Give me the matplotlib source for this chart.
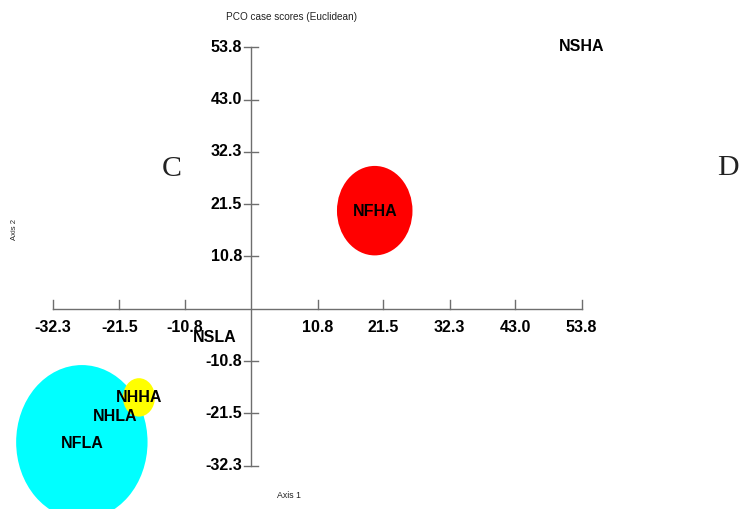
import matplotlib
matplotlib.use("Agg")
import matplotlib.pyplot as plt
from matplotlib.patches import Ellipse

# tick values on both axes
x_ticks = [-32.3, -21.5, -10.8, 10.8, 21.5, 32.3, 43.0, 53.8]
y_ticks = [-32.3, -21.5, -10.8, 10.8, 21.5, 32.3, 43.0, 53.8]
x_tick_labels = ["-32.3", "-21.5", "-10.8", "10.8", "21.5", "32.3", "43.0", "53.8"]
y_tick_labels = ["-32.3", "-21.5", "-10.8", "10.8", "21.5", "32.3", "43.0", "53.8"]

# group labels and their scores
groups = ["NSHA", "NFHA", "NSLA", "NHHA", "NHLA", "NFLA"]
axis1 = [53.8, 20.1, -5.9, -18.3, -22.2, -27.6]
axis2 = [53.9, 20.0, -5.8, -18.3, -22.2, -27.6]

# ellipses around groups
ell_x = [20.1, -27.6, -18.3]
ell_y = [20.2, -27.4, -18.2]
ell_w = [12.3, 21.4, 5.2]
ell_h = [18.4, 31.7, 7.9]
ell_colors = ["#ff0000", "#00ffff", "#ffff00"]

plt.rcParams['font.family'] = ['Liberation Sans', 'DejaVu Sans']

fig = plt.figure(figsize=(7.4, 5.09), dpi=100)
ax = fig.add_axes([0, 0, 1, 1])
ax.set_xlim(-40.93, 79.59)
ax.set_ylim(-41.15, 63.52)
ax.axis('off')

# ellipses
for cx, cy, w, h, c in zip(ell_x, ell_y, ell_w, ell_h, ell_colors):
    ax.add_patch(Ellipse((cx, cy), w, h, facecolor=c, edgecolor='none', zorder=1))

axis_col = '#6e6e6e'
# axes lines through origin
ax.plot([x_ticks[0], x_ticks[-1]], [0, 0], color=axis_col, lw=1, zorder=2)
ax.plot([0, 0], [y_ticks[0], y_ticks[-1]], color=axis_col, lw=1, zorder=2)

# x ticks (upward) and labels
for t, lab in zip(x_ticks, x_tick_labels):
    ax.plot([t, t], [0, 1.9], color=axis_col, lw=1, zorder=2)
    ax.text(t, -3.9, lab, ha='center', va='center', fontsize=11.5,
            fontweight='bold', zorder=3)

# y ticks (crossing) and labels
for t, lab in zip(y_ticks, y_tick_labels):
    ax.plot([-1.25, 1.15], [t, t], color=axis_col, lw=1, zorder=2)
    ax.text(-1.5, t, lab, ha='right', va='center', fontsize=11.5,
            fontweight='bold', zorder=3)

# group labels
for g, a1, a2 in zip(groups, axis1, axis2):
    ax.text(a1, a2, g, ha='center', va='center', fontsize=11.5,
            fontweight='bold', zorder=4)

# titles
fig.text(292 / 740, 1 - 17 / 509, "PCO case scores (Euclidean)", ha='center',
         va='center', fontsize=7.2, color='#222222')
fig.text(289 / 740, 1 - 495 / 509, "Axis 1", ha='center', va='center',
         fontsize=6.3, color='#222222')
fig.text(15 / 740, 1 - 230 / 509, "Axis 2", ha='center', va='center',
         fontsize=5.5, rotation=90, color='#222222')

# panel letters
fig.text(172 / 740, 1 - 169 / 509, "C", ha='center', va='center',
         fontsize=21.5, family=['Liberation Serif'], color='#222222')
fig.text(728 / 740, 1 - 168 / 509, "D", ha='center', va='center',
         fontsize=21.5, family=['Liberation Serif'], color='#222222')

fig.savefig("out.png", dpi=100)
